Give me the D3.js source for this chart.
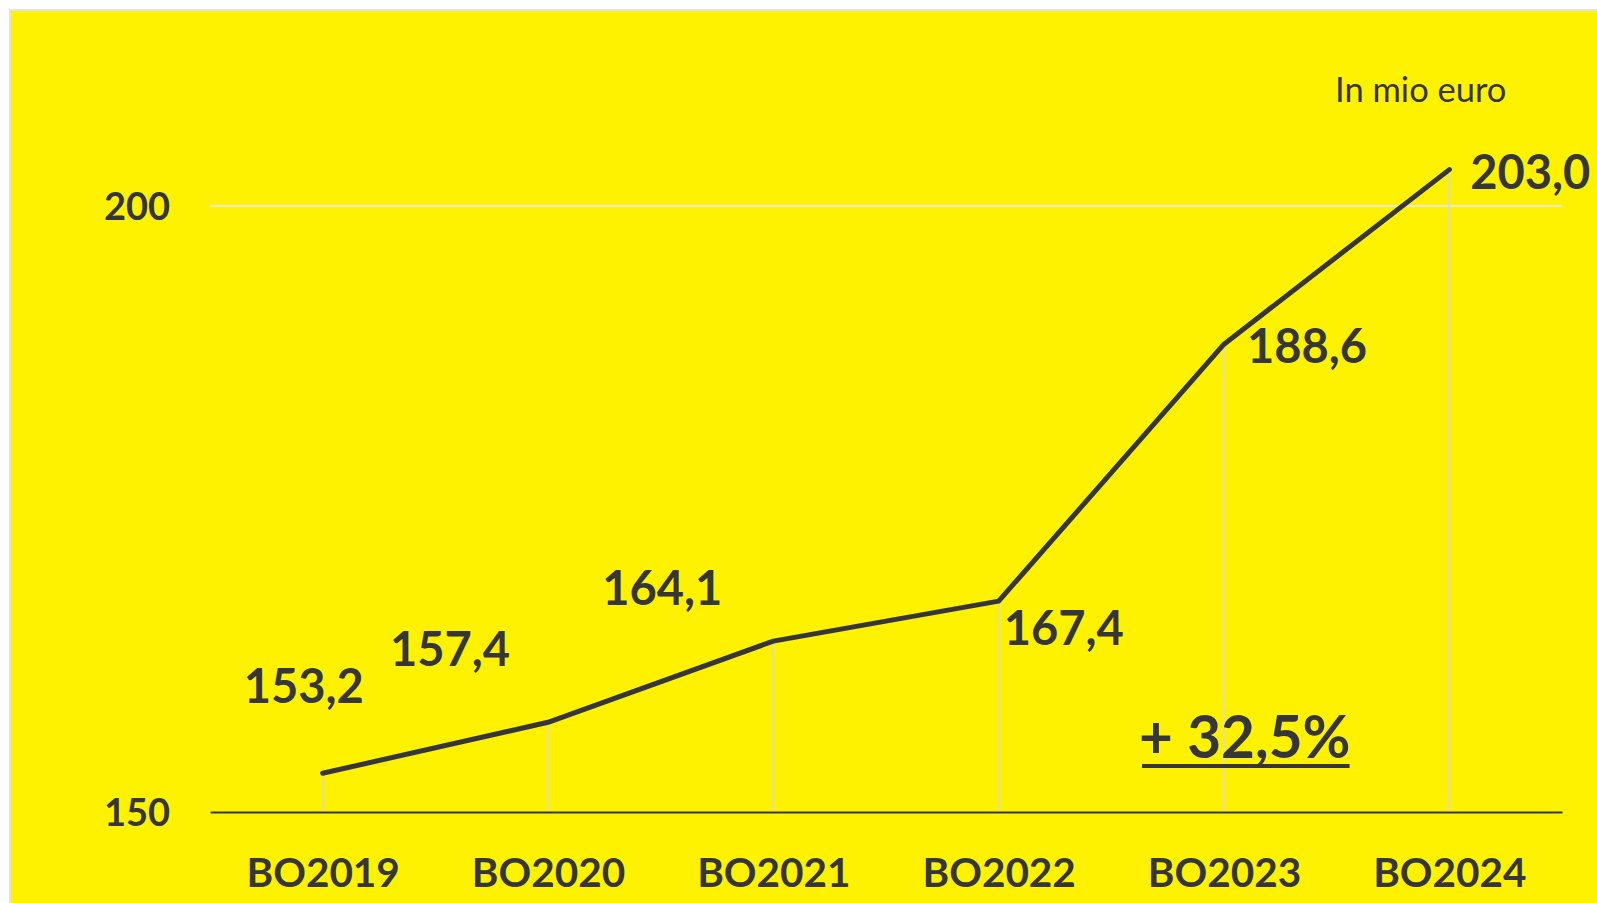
<!DOCTYPE html>
<html>
<head>
<meta charset="utf-8">
<script src="https://cdn.jsdelivr.net/npm/d3@7"></script>
<style>
  html, body { margin: 0; padding: 0; background: #ffffff; }
  svg { display: block; font-family: Lato, 'Open Sans', sans-serif; }
</style>
</head>
<body>
<svg id="chart"></svg>
<script>
// chart data
const categories = ['BO2019', 'BO2020', 'BO2021', 'BO2022', 'BO2023', 'BO2024']
const values = [153.2, 157.4, 164.1, 167.4, 188.6, 203.0]
const valueLabels = ['153,2', '157,4', '164,1', '167,4', '188,6', '203,0']
const yTicks = [150, 200]
const unitText = 'In mio euro'
const growthText = '+ 32,5%'

// label placement relative to each point (hand placed, like in the original)
const labelOffsets = [[-79, -70], [-158, -56], [-171, -36], [5, 44], [23, 19], [21, 19]]

const W = 1597, H = 903
const margin = {top: 206, right: 35, bottom: 91, left: 210}
const width = W - margin.left - margin.right
const height = H - margin.top - margin.bottom
const ink = '#363636'

const svg = d3.select('#chart')
    .attr('width', W)
    .attr('height', H)

// yellow panel with a thin grey edge on top and left
svg.append('rect')
    .attr('x', 10).attr('y', 10)
    .attr('width', W - 10).attr('height', H - 10)
    .attr('fill', '#fff200')
svg.append('path')
    .attr('d', 'M10,' + H + 'V10H' + W)
    .attr('fill', 'none')
    .attr('stroke', '#e2e2e2')
    .attr('stroke-width', 2)

const g = svg.append('g')
    .attr('transform', 'translate(' + margin.left + ',' + margin.top + ')')

const x = d3.scalePoint()
    .domain(categories)
    .range([0, width])
    .padding(0.5)

const y = d3.scaleLinear()
    .domain([150, 200])
    .range([height, 0])

// gridline at 200
g.append('g')
    .selectAll('line')
    .data(yTicks.filter(d => d !== 150))
    .join('line')
    .attr('x1', 0).attr('x2', width)
    .attr('y1', d => y(d)).attr('y2', d => y(d))
    .attr('stroke', '#e6e6e6')
    .attr('stroke-width', 2)

// drop lines
g.append('g')
    .selectAll('line')
    .data(categories)
    .join('line')
    .attr('x1', d => x(d)).attr('x2', d => x(d))
    .attr('y1', (d, i) => y(values[i])).attr('y2', height)
    .attr('stroke', '#d8d8d8')
    .attr('stroke-width', 1.5)

// y axis
const yAxis = g.append('g')
    .call(d3.axisLeft(y).tickValues(yTicks).tickSize(0).tickPadding(40).tickFormat(d3.format('d')))
yAxis.select('.domain').remove()
yAxis.selectAll('text')
    .attr('font-family', 'Lato, sans-serif')
    .attr('font-size', 38)
    .attr('font-weight', 'bold')
    .attr('fill', ink)
    .attr('dy', '0.35em')

// x axis
const xAxis = g.append('g')
    .attr('transform', 'translate(0,' + height + ')')
    .call(d3.axisBottom(x).tickSize(0))
xAxis.select('.domain')
    .attr('stroke', ink)
    .attr('stroke-width', 2)
xAxis.selectAll('text')
    .attr('font-family', 'Lato, sans-serif')
    .attr('font-size', 40.5)
    .attr('font-weight', 'bold')
    .attr('fill', ink)
    .attr('y', 75)
    .attr('dy', 0)

// the line
g.append('path')
    .datum(values)
    .attr('fill', 'none')
    .attr('stroke', ink)
    .attr('stroke-width', 5)
    .attr('stroke-linejoin', 'round')
    .attr('stroke-linecap', 'round')
    .attr('d', d3.line()
        .x((d, i) => x(categories[i]))
        .y(d => y(d)))

// data labels
g.append('g')
    .selectAll('text')
    .data(valueLabels)
    .join('text')
    .attr('x', (d, i) => x(categories[i]) + labelOffsets[i][0])
    .attr('y', (d, i) => y(values[i]) + labelOffsets[i][1])
    .attr('font-size', 47)
    .attr('font-weight', 'bold')
    .attr('fill', ink)
    .text(d => d)

// unit note
svg.append('text')
    .attr('x', 1335)
    .attr('y', 102)
    .attr('font-size', 34.5)
    .attr('fill', ink)
    .text(unitText)

// growth note, underlined
const growth = svg.append('text')
    .attr('x', 1139)
    .attr('y', 758)
    .attr('font-size', 58.5)
    .attr('font-weight', 'bold')
    .attr('fill', ink)
    .text(growthText)
const gb = growth.node().getBBox()
svg.append('line')
    .attr('x1', gb.x + 3).attr('x2', gb.x + gb.width - 1)
    .attr('y1', 766).attr('y2', 766)
    .attr('stroke', ink)
    .attr('stroke-width', 4)
</script>
</body>
</html>
